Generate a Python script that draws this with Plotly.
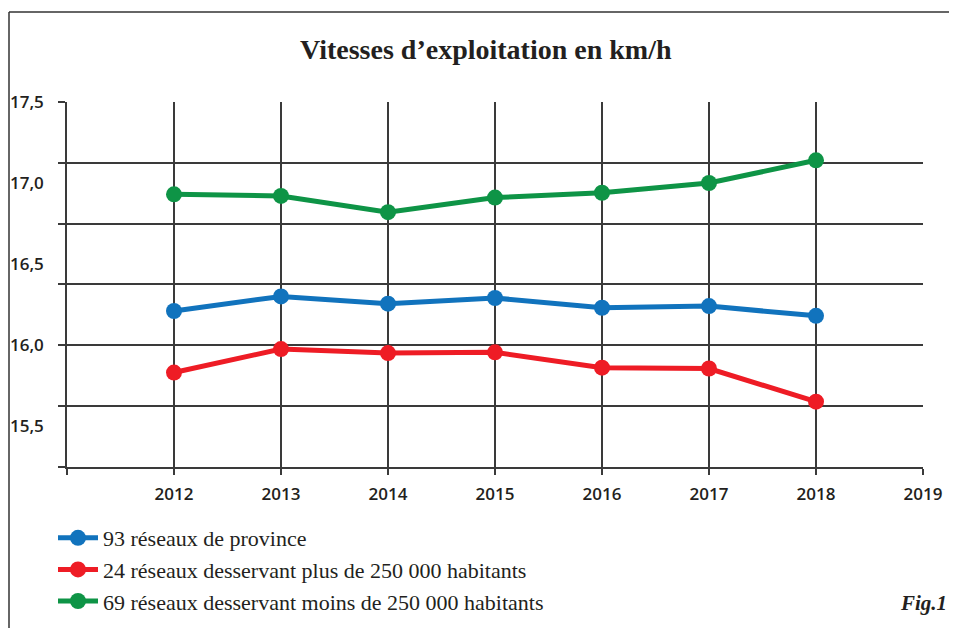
import plotly.graph_objects as go

years = [2012, 2013, 2014, 2015, 2016, 2017, 2018]
province = [16.21, 16.30, 16.255, 16.29, 16.23, 16.24, 16.18]
plus_250k = [15.83, 15.975, 15.95, 15.955, 15.86, 15.855, 15.65]
moins_250k = [16.93, 16.92, 16.82, 16.91, 16.94, 17.0, 17.14]

series_names = [
    "93 réseaux de province",
    "24 réseaux desservant plus de 250 000 habitants",
    "69 réseaux desservant moins de 250 000 habitants",
]
series_colors = ["#1173BD", "#EE1C25", "#0E9446"]

y_tick_vals = [15.5, 16.0, 16.5, 17.0, 17.5]
y_tick_text = ["15,5", "16,0", "16,5", "17,0", "17,5"]
x_tick_vals = [2011, 2012, 2013, 2014, 2015, 2016, 2017, 2018, 2019]
x_tick_text = ["", "2012", "2013", "2014", "2015", "2016", "2017", "2018", "2019"]

title_text = "Vitesses d’exploitation en km/h"
fig_label = "Fig.1"

# the page body adds an 8px margin; reference pixel coords are shifted by OFF
OFF = 8
W, H = 957 - OFF, 628 - OFF
ml, mt = 67 - OFF, 102 - OFF
mr, mb = W - (923 - OFF), H - (467 - OFF)
pw, ph = W - ml - mr, H - mt - mb


def px(x_px):
    return (x_px - OFF - ml) / pw


def py(y_px):
    return 1 - (y_px - OFF - mt) / ph


fig = go.Figure()
for name, vals, col in zip(series_names, [province, plus_250k, moins_250k], series_colors):
    fig.add_trace(go.Scatter(
        x=years, y=vals, name=name, mode="lines+markers",
        line=dict(color=col, width=5),
        marker=dict(color=col, size=16),
    ))

grid_col = "#3a3a3a"
txt_col = "#231f20"
serif = "Liberation Serif, Times New Roman, serif"

fig.update_layout(
    width=W, height=H,
    margin=dict(l=ml, r=mr, t=mt, b=mb, autoexpand=False),
    paper_bgcolor="white", plot_bgcolor="white",
    showlegend=True,
    legend=dict(
        x=px(53), xanchor="left", y=py(517), yanchor="top",
        font=dict(family=serif, size=22, color=txt_col),
        bgcolor="rgba(0,0,0,0)", itemwidth=40, tracegroupgap=0,
    ),
    xaxis=dict(
        range=[2011, 2019], tickmode="array", tickvals=x_tick_vals, ticktext=x_tick_text,
        showgrid=True, gridcolor=grid_col, gridwidth=1.5,
        showline=True, linecolor=grid_col, linewidth=1.5,
        ticks="outside", ticklen=6, tickcolor=grid_col, tickwidth=1.5,
        tickfont=dict(family="Open Sans", size=17, color=txt_col, weight=600),
        ticklabelstandoff=5, zeroline=False, automargin=False,
    ),
    yaxis=dict(
        range=[17.5 - ph / 162.0, 17.5], tickmode="array", tickvals=y_tick_vals, ticktext=y_tick_text,
        showgrid=False, showline=True, linecolor=grid_col, linewidth=1.5,
        ticks="", ticklen=0,
        tickfont=dict(family="Open Sans", size=17, color=txt_col, weight=600),
        ticklabelstandoff=18, zeroline=False, automargin=False,
        minor=dict(tick0=15.25, dtick=0.375, showgrid=True, gridcolor=grid_col, gridwidth=1.5,
                   ticks="outside", ticklen=7, tickcolor=grid_col, tickwidth=1.5),
    ),
    annotations=[
        dict(text="<b>" + title_text + "</b>", xref="paper", yref="paper", x=px(486), y=py(50),
             xanchor="center", yanchor="middle", showarrow=False,
             font=dict(family=serif, size=28, color=txt_col)),
        dict(text="<b><i>" + fig_label + "</i></b>", xref="paper", yref="paper",
             x=px(949), y=py(603), xanchor="right", yanchor="middle", showarrow=False,
             font=dict(family=serif, size=21, color=txt_col)),
    ],
    shapes=[
        dict(type="line", xref="paper", yref="paper", x0=px(9), x1=px(9),
             y0=py(12), y1=py(640), line=dict(color="#333", width=1.5)),
        dict(type="line", xref="paper", yref="paper", x0=px(9), x1=px(970),
             y0=py(12), y1=py(12), line=dict(color="#333", width=1.5)),
    ],
)

fig.write_html("out.html")
